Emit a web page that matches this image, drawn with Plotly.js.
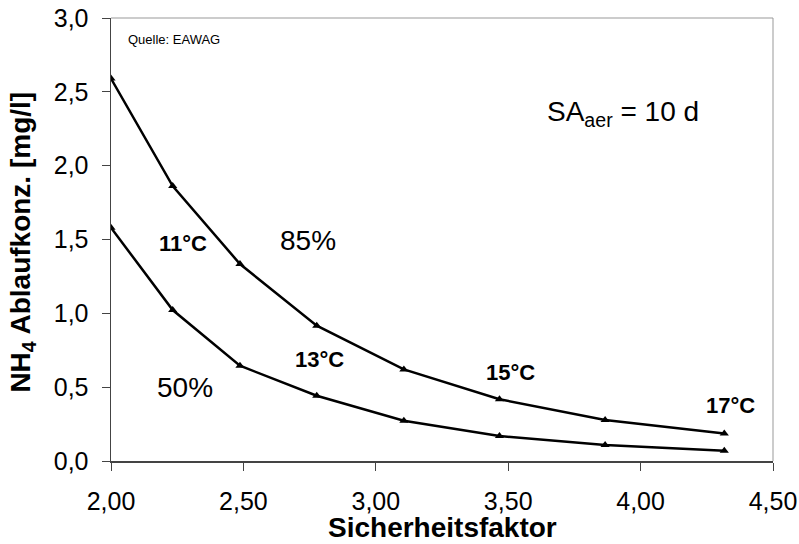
<!DOCTYPE html>
<html>
<head>
<meta charset="utf-8">
<script src="https://cdn.plot.ly/plotly-3.0.1.min.js"></script>
<style>html,body{margin:0;padding:0;background:#fff;}#chart{width:799px;height:544px;}</style>
</head>
<body>
<div id="chart"></div>
<script>
// Data
const sicherheitsfaktor = [2.00, 2.233, 2.487, 2.777, 3.106, 3.467, 3.866, 4.316];
const nh4_85 = [2.59, 1.862, 1.334, 0.916, 0.62, 0.418, 0.278, 0.187];
const nh4_50 = [1.58, 1.022, 0.645, 0.442, 0.273, 0.169, 0.108, 0.07];
const xTicks = [2.0, 2.5, 3.0, 3.5, 4.0, 4.5];
const yTicks = [0, 0.5, 1.0, 1.5, 2.0, 2.5, 3.0];

const fontFam = 'Liberation Sans, Arial, sans-serif';
const lineStyle = {color: '#000', width: 2.5};
const markerStyle = {symbol: 'triangle-up', size: 8, color: '#000'};

const traces = [
  {x: sicherheitsfaktor, y: nh4_85, mode: 'lines+markers', name: '85%', line: lineStyle, marker: markerStyle, showlegend: false},
  {x: sicherheitsfaktor, y: nh4_50, mode: 'lines+markers', name: '50%', line: lineStyle, marker: markerStyle, showlegend: false}
];

const plainAnn = (x, y, text, size, bold, anchor) => ({
  x: x, y: y, xref: 'x', yref: 'y', text: bold ? '<b>' + text + '</b>' : text,
  showarrow: false, xanchor: anchor || 'center', yanchor: 'middle',
  font: {family: fontFam, size: size, color: '#000'}
});

const layout = {
  width: 799, height: 544,
  margin: {l: 111, r: 26, t: 18, b: 83},
  paper_bgcolor: '#fff', plot_bgcolor: '#fff',
  separators: ', ',
  font: {family: fontFam, color: '#000'},
  xaxis: {
    range: [2.0, 4.5], tickvals: xTicks, tickformat: '.2f',
    ticks: 'outside', ticklen: 8, tickcolor: '#444', ticklabelstandoff: 9,
    showline: true, linecolor: '#444', linewidth: 1.5, showgrid: false, zeroline: false,
    tickfont: {family: fontFam, size: 25, color: '#000'}
  },
  yaxis: {
    range: [0, 3.0], tickvals: yTicks, tickformat: '.1f',
    ticks: 'outside', ticklen: 8, tickcolor: '#444', ticklabelstandoff: 8,
    showline: true, linecolor: '#444', linewidth: 1.5, showgrid: false, zeroline: false,
    tickfont: {family: fontFam, size: 25, color: '#000'}
  },
  shapes: [
    {type: 'line', xref: 'paper', yref: 'paper', x0: 0, x1: 1, y0: 1, y1: 1, line: {color: '#999', width: 1}},
    {type: 'line', xref: 'paper', yref: 'paper', x0: 1, x1: 1, y0: 0, y1: 1, line: {color: '#999', width: 1}}
  ],
  annotations: [
    {x: 0.5, y: -0.1512, xref: 'paper', yref: 'paper', text: '<b>Sicherheitsfaktor</b>', showarrow: false,
     xanchor: 'center', yanchor: 'middle', font: {family: fontFam, size: 28, color: '#000'}},
    {x: -0.1329, y: 0.493, xref: 'paper', yref: 'paper', text: '<b>NH<sub>4</sub> Ablaufkonz. [mg/l]</b>', showarrow: false,
     textangle: -90, xanchor: 'center', yanchor: 'middle', font: {family: fontFam, size: 28, color: '#000'}},
    plainAnn(2.057, 2.857, 'Quelle: EAWAG', 13, false, 'left'),
    plainAnn(3.639, 2.356, 'SA<sub>aer</sub> = 10 d', 28, false, 'left'),
    plainAnn(2.272, 1.476, '11°C', 22, true),
    plainAnn(2.744, 1.496, '85%', 28, false),
    plainAnn(2.789, 0.69, '13°C', 22, true),
    plainAnn(2.279, 0.50, '50%', 28, false),
    plainAnn(3.507, 0.596, '15°C', 22, true),
    plainAnn(4.338, 0.379, '17°C', 22, true)
  ]
};

Plotly.newPlot('chart', traces, layout, {displayModeBar: false, staticPlot: true});
</script>
</body>
</html>
